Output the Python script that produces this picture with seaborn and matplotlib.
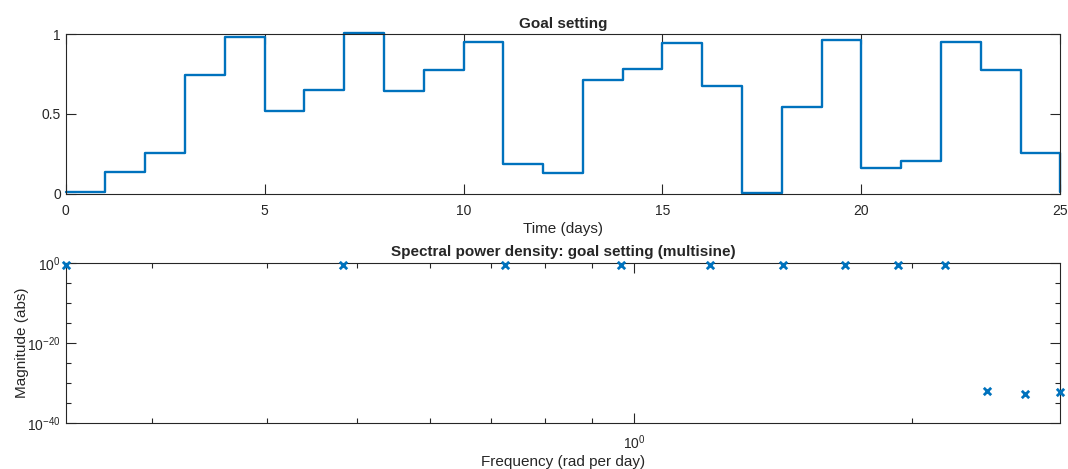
import matplotlib
matplotlib.use("Agg")
import matplotlib.pyplot as plt
from matplotlib.ticker import FixedLocator, FixedFormatter, NullFormatter
import numpy as np
import seaborn as sns

# goal setting signal, one level per day (stairs), last value closes the plot at day 25
days = np.arange(26)
goal_setting = [0.012, 0.135, 0.255, 0.741, 0.979, 0.521, 0.651, 1.005, 0.643,
                0.776, 0.950, 0.187, 0.131, 0.714, 0.780, 0.944, 0.672, 0.004,
                0.544, 0.965, 0.164, 0.205, 0.948, 0.778, 0.257, 0.015]

# spectral power density of the multisine (rad per day)
frequency = [0.2417, 0.4833, 0.7250, 0.9666, 1.2083, 1.4500,
             1.6916, 1.9333, 2.1750, 2.4166, 2.6583, 2.9000]
magnitude = [0.3, 0.3, 0.3, 0.3, 0.3, 0.3, 0.3, 0.3, 0.3,
             8e-33, 1.3e-33, 4e-33]

time_ticks = [0, 5, 10, 15, 20, 25]
goal_ticks = [0, 0.5, 1]
goal_tick_labels = ["0", "0.5", "1"]
mag_ticks = [1e-40, 1e-20, 1e0]
mag_tick_labels = [r"$\mathregular{10^{-40}}$", r"$\mathregular{10^{-20}}$", r"$\mathregular{10^{0}}$"]
mag_minor = [1e-35, 1e-30, 1e-25, 1e-15, 1e-10, 1e-5]
freq_ticks = [1.0]
freq_tick_labels = [r"$\mathregular{10^{0}}$"]
freq_minor = [0.3, 0.4, 0.5, 0.6, 0.7, 0.8, 0.9, 2.0]

BLUE = "#0072BD"
DARK = "#262626"

sns.set_style("white")
plt.rcParams["font.family"] = ["Liberation Sans", "DejaVu Sans"]
plt.rcParams["axes.edgecolor"] = DARK
plt.rcParams["axes.linewidth"] = 0.8
plt.rcParams["axes.unicode_minus"] = False
plt.rcParams["xtick.color"] = DARK
plt.rcParams["ytick.color"] = DARK
plt.rcParams["text.color"] = DARK

fig = plt.figure(figsize=(10.68, 4.69), dpi=100)
ax_top = fig.add_axes([0.0615, 0.5864, 0.9313, 0.3411])
ax_bot = fig.add_axes([0.0615, 0.0987, 0.9313, 0.3411])

# --- top: goal setting stairs
sns.lineplot(x=days, y=goal_setting, ax=ax_top, color=BLUE, linewidth=1.7,
             drawstyle="steps-post", clip_on=False)
ax_top.set_xlim(0, 25)
ax_top.set_ylim(0, 1)
ax_top.set_xticks(time_ticks)
ax_top.set_xticklabels([str(t) for t in time_ticks])
ax_top.set_yticks(goal_ticks)
ax_top.set_yticklabels(goal_tick_labels)
ax_top.tick_params(direction="in", bottom=True, left=True, top=True, right=True,
                   length=7, width=0.8, labelsize=10)
ax_top.tick_params(axis="x", pad=7)
ax_top.set_xlabel("Time (days)", fontsize=11, labelpad=3)
ax_top.set_title("Goal setting", fontsize=11, fontweight="bold", pad=4.5)

# --- bottom: spectrum on log-log axes
sns.scatterplot(x=frequency, y=magnitude, ax=ax_bot, marker="x", color=BLUE,
                s=28, linewidth=2, clip_on=False, zorder=3)
ax_bot.set_xscale("log")
ax_bot.set_yscale("log")
ax_bot.set_xlim(frequency[0], frequency[-1])
ax_bot.set_ylim(1e-40, 1e0)
ax_bot.xaxis.set_major_locator(FixedLocator(freq_ticks))
ax_bot.xaxis.set_major_formatter(FixedFormatter(freq_tick_labels))
ax_bot.xaxis.set_minor_locator(FixedLocator(freq_minor))
ax_bot.xaxis.set_minor_formatter(NullFormatter())
ax_bot.yaxis.set_major_locator(FixedLocator(mag_ticks))
ax_bot.yaxis.set_major_formatter(FixedFormatter(mag_tick_labels))
ax_bot.yaxis.set_minor_locator(FixedLocator(mag_minor))
ax_bot.yaxis.set_minor_formatter(NullFormatter())
ax_bot.tick_params(which="both", direction="in", bottom=True, left=True,
                   top=True, right=True, width=0.8, labelsize=10)
ax_bot.tick_params(which="major", length=7)
ax_bot.tick_params(which="minor", length=3.5)
ax_bot.tick_params(axis="x", which="major", pad=8)
ax_bot.set_xlabel("Frequency (rad per day)", fontsize=11, labelpad=2)
ax_bot.set_ylabel("Magnitude (abs)", fontsize=11, labelpad=-1)
ax_bot.set_title("Spectral power density: goal setting (multisine)", fontsize=11,
                 fontweight="bold", pad=4.5)

fig.savefig("out.png", dpi=100)
plt.close(fig)
